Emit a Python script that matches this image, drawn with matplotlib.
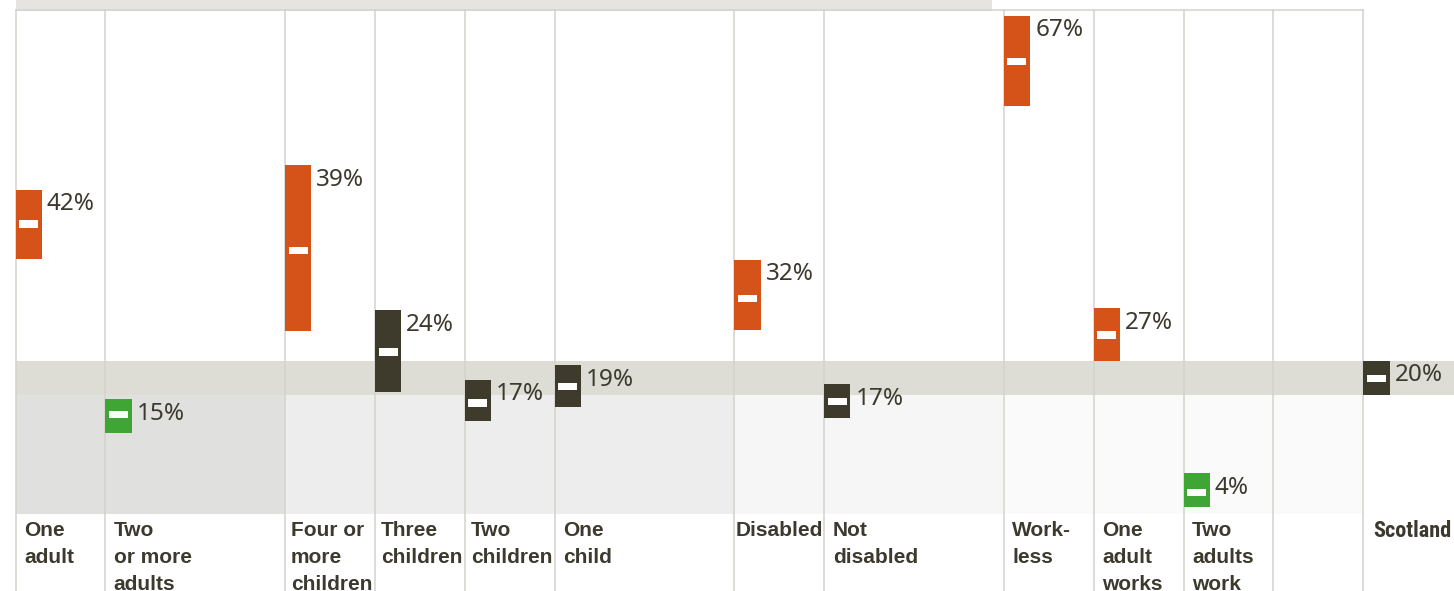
import matplotlib
matplotlib.use("Agg")
import matplotlib.pyplot as plt

# 数据（百分比，从图中读取）
slots = [0, 1, 3, 4, 5, 6, 8, 9, 11, 12, 13, 15]
cats = ["One\nadult", "Two\nor more\nadults", "Four or\nmore\nchildren", "Three\nchildren",
        "Two\nchildren", "One\nchild", "Disabled", "Not\ndisabled", "Work-\nless",
        "One\nadult\nworks", "Two\nadults\nwork", "Scotland"]
est = [42.7, 14.7, 38.8, 23.9, 16.4, 18.8, 31.7, 16.6, 66.6, 26.4, 3.2, 20.0]
low = [37.5, 11.9, 26.9, 18.0, 13.7, 15.8, 27.1, 14.1, 60.1, 22.5, 1.0, 17.6]
high = [47.7, 16.9, 51.3, 30.0, 19.8, 21.9, 37.4, 19.1, 73.3, 30.3, 6.0, 22.6]
pct_labels = ["42%", "15%", "39%", "24%", "17%", "19%", "32%", "17%", "67%", "27%", "4%", "20%"]
groups = ["hi", "lo", "hi", "mid", "mid", "mid", "hi", "mid", "hi", "hi", "lo", "mid"]

COLORS = {"hi": "#d55319", "mid": "#3e3b2d", "lo": "#3fa535"}
TEXT = "#3c3a2e"
GRID = "#d3d3cb"

# 像素换算
PX_X = 89.85   # 每列像素
X0 = 15.5
PX_Y = 6.8     # 每个百分点像素
Y0 = 514.3
W, H = 1454, 591


def sx(px):
    return (px - X0) / PX_X


def sy(py):
    return (Y0 - py) / PX_Y


fig = plt.figure(figsize=(W / 100, H / 100), dpi=100)
ax = fig.add_axes([0, 0, 1, 1])
ax.set_xlim(sx(0), sx(W))
ax.set_ylim(sy(H), sy(0))
ax.axis("off")

top = sy(10.5)
sc_low, sc_high = low[-1], high[-1]

# 顶部灰条
ax.fill_between([0, sx(992)], top, sy(0), color="#e5e4e0", lw=0, zorder=1)

# 下方分组底色
panels = [(0, 3, "#e0e0de"), (3, 8, "#ededed"), (8, 11, "#f6f6f6"), (11, 15, "#fafafa")]
for a, b, c in panels:
    ax.fill_between([a, b], 0, sc_low, color=c, lw=0, zorder=1)

# 苏格兰置信区间横带
ax.fill_between([0, sx(W)], sc_low, sc_high, color="#deddd5", lw=0, zorder=1)

# 网格线
for s in [0, 1, 3, 4, 5, 6, 8, 9, 11, 12, 13, 14, 15]:
    ax.plot([s, s], [sy(H), top], color=GRID, lw=1.1, zorder=2)
ax.plot([0, 15], [top, top], color=GRID, lw=1.1, zorder=2)

# 区间条
bw = 26.3 / PX_X
heights = [h - l for h, l in zip(high, low)]
ax.bar(slots, heights, bottom=low, width=bw, align="edge",
       color=[COLORS[g] for g in groups], lw=0, zorder=3)

# 白色估计值标记
mw = 19 / PX_X
mh = 7.5 / PX_Y
ax.bar([s + bw / 2 for s in slots], [mh] * len(slots), bottom=[e - mh / 2 for e in est],
       width=mw, color="white", lw=0, zorder=4)

# 数值标签
for s, h, t in zip(slots, high, pct_labels):
    ax.annotate(t, (s + bw, h), xytext=(5, -20.5), textcoords="offset pixels",
                ha="left", va="baseline", fontsize=17.5, fontweight="medium", color=TEXT,
                family=["Noto Sans", "DejaVu Sans"], zorder=5)

# 类别标签
pads = {8: 1, 3: 6, 4: 6, 5: 6}
for s, c in zip(slots[:-1], cats[:-1]):
    ax.text(s + pads.get(s, 8.5) / PX_X, sy(521), c, ha="left", va="top",
            fontsize=15, fontweight="bold", color=TEXT, linespacing=1.53,
            family=["Liberation Sans", "DejaVu Sans"], zorder=5)
ax.text(sx(1451), sy(520), cats[-1], ha="right", va="top", fontsize=16,
        fontweight="bold", color=TEXT,
        family=["Roboto Condensed", "Liberation Sans Narrow", "Roboto", "DejaVu Sans"], zorder=5)

fig.savefig("out.png", dpi=100, facecolor="white")
